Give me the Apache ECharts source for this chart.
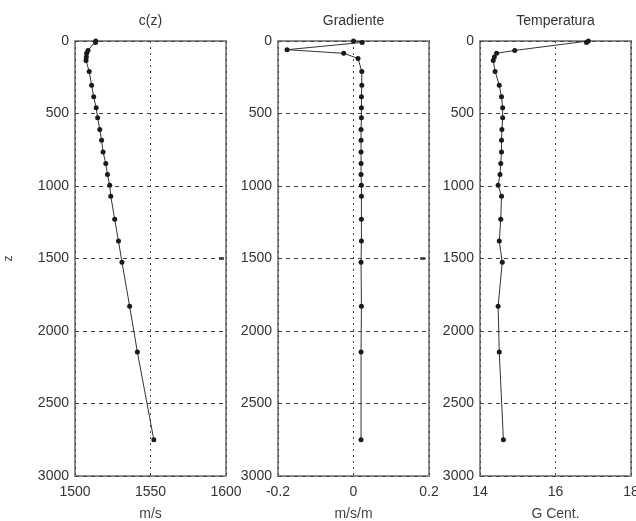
<!DOCTYPE html>
<html>
<head>
<meta charset="utf-8">
<script src="https://cdn.jsdelivr.net/npm/echarts@6/dist/echarts.min.js"></script>
<style>html,body{margin:0;padding:0;background:#fff;overflow:hidden}#c{width:636px;height:521px}</style>
</head>
<body>
<div id="c"></div>
<script>
// Depth levels (m) for sound speed and temperature
var depth = [0, 10, 65, 85, 110, 135, 210, 305, 385, 460, 530, 610, 685, 765, 845, 920, 995, 1070, 1230, 1380, 1525, 1830, 2145, 2750];
// Sound speed c(z), m/s
var soundSpeed = [1513.8, 1513.6, 1508.6, 1507.7, 1507.5, 1507.3, 1509.4, 1511.0, 1512.4, 1514.0, 1515.0, 1516.4, 1517.6, 1518.6, 1520.4, 1521.5, 1523.0, 1523.7, 1526.3, 1528.8, 1531.1, 1536.2, 1541.3, 1552.2];
// Temperature, G Cent.
var temperature = [16.87, 16.82, 14.92, 14.44, 14.38, 14.35, 14.40, 14.51, 14.57, 14.60, 14.60, 14.58, 14.57, 14.57, 14.55, 14.53, 14.48, 14.57, 14.55, 14.51, 14.59, 14.48, 14.51, 14.62];
// Gradient depths and values, m/s/m
var gradDepth = [0, 10, 60, 85, 120, 210, 305, 385, 460, 530, 610, 685, 765, 845, 920, 995, 1070, 1230, 1380, 1525, 1830, 2145, 2750];
var gradient = [0.0, 0.023, -0.176, -0.026, 0.012, 0.022, 0.022, 0.021, 0.021, 0.021, 0.020, 0.020, 0.020, 0.020, 0.020, 0.021, 0.021, 0.021, 0.021, 0.020, 0.021, 0.020, 0.020];
// Small edge marks seen at z = 1500 on the right border of panels 1 and 2
var edgeMarkC = [[1597, 1500]];
var edgeMarkG = [[0.183, 1500]];

var titles = ['c(z)', 'Gradiente', 'Temperatura'];
var xUnits = ['m/s', 'm/s/m', 'G Cent.'];
var xMin = [1500, -0.2, 14], xMax = [1600, 0.2, 18], xStep = [50, 0.2, 2];
var yMin = 0, yMax = 3000, yStep = 500;

function pairs(xs, ys) { return xs.map(function (v, i) { return [v, ys[i]]; }); }
function plain(v) { return String(v); }

var FONT = 'Liberation Sans, Arial, sans-serif';
var lefts = [75, 278, 480];
var W = 151, TOP = 41, H = 435;

var grids = [], xAxes = [], yAxes = [], titleArr = [];
for (var i = 0; i < 3; i++) {
  grids.push({left: lefts[i], top: TOP, width: W, height: H, show: true, borderColor: '#8c8c8c', borderWidth: 2,
    backgroundColor: '#fff', containLabel: false, outerBoundsMode: 'none'});
  titleArr.push({text: titles[i], left: lefts[i] + W / 2, top: 14, textAlign: 'center', padding: 0,
    textStyle: {fontFamily: FONT, fontSize: 14, fontWeight: 'normal', color: '#333'}});
  xAxes.push({type: 'value', gridIndex: i, min: xMin[i], max: xMax[i], interval: xStep[i],
    name: xUnits[i], nameLocation: 'middle', nameGap: 31,
    nameTextStyle: {fontFamily: FONT, fontSize: 14, color: '#444'},
    axisLine: {show: false}, axisTick: {show: false},
    axisLabel: {fontFamily: FONT, fontSize: 14, color: '#333', margin: 9, formatter: plain, hideOverlap: false},
    splitLine: {show: true, lineStyle: {color: '#444', width: 1, type: [2, 4]}}});
  yAxes.push({type: 'value', gridIndex: i, min: yMin, max: yMax, interval: yStep, inverse: true,
    name: i === 0 ? 'z' : '', nameLocation: 'middle', nameGap: 60, nameRotate: 90,
    nameTextStyle: {fontFamily: FONT, fontSize: 12, color: '#444'},
    axisLine: {show: false}, axisTick: {show: false},
    axisLabel: {fontFamily: FONT, fontSize: 14, color: '#333', margin: 6, formatter: plain},
    splitLine: {show: true, lineStyle: {color: '#444', width: 1, type: [4, 4]}}});
}

function lineSeries(idx, data) {
  return {type: 'line', xAxisIndex: idx, yAxisIndex: idx, data: data,
    symbol: 'circle', symbolSize: 5, showSymbol: true, animation: false,
    itemStyle: {color: '#1a1a1a'}, lineStyle: {color: '#333', width: 1}};
}
function markSeries(idx, data) {
  return {type: 'scatter', xAxisIndex: idx, yAxisIndex: idx, data: data,
    symbol: 'rect', symbolSize: [5, 3], itemStyle: {color: '#333'}, animation: false};
}

var chart = echarts.init(document.getElementById('c'), null, {renderer: 'canvas', width: 636, height: 521});
chart.setOption({
  animation: false,
  backgroundColor: '#fff',
  title: titleArr,
  grid: grids,
  xAxis: xAxes,
  yAxis: yAxes,
  series: [
    lineSeries(0, pairs(soundSpeed, depth)),
    lineSeries(1, pairs(gradient, gradDepth)),
    lineSeries(2, pairs(temperature, depth)),
    markSeries(0, edgeMarkC),
    markSeries(1, edgeMarkG)
  ]
});
</script>
</body>
</html>
